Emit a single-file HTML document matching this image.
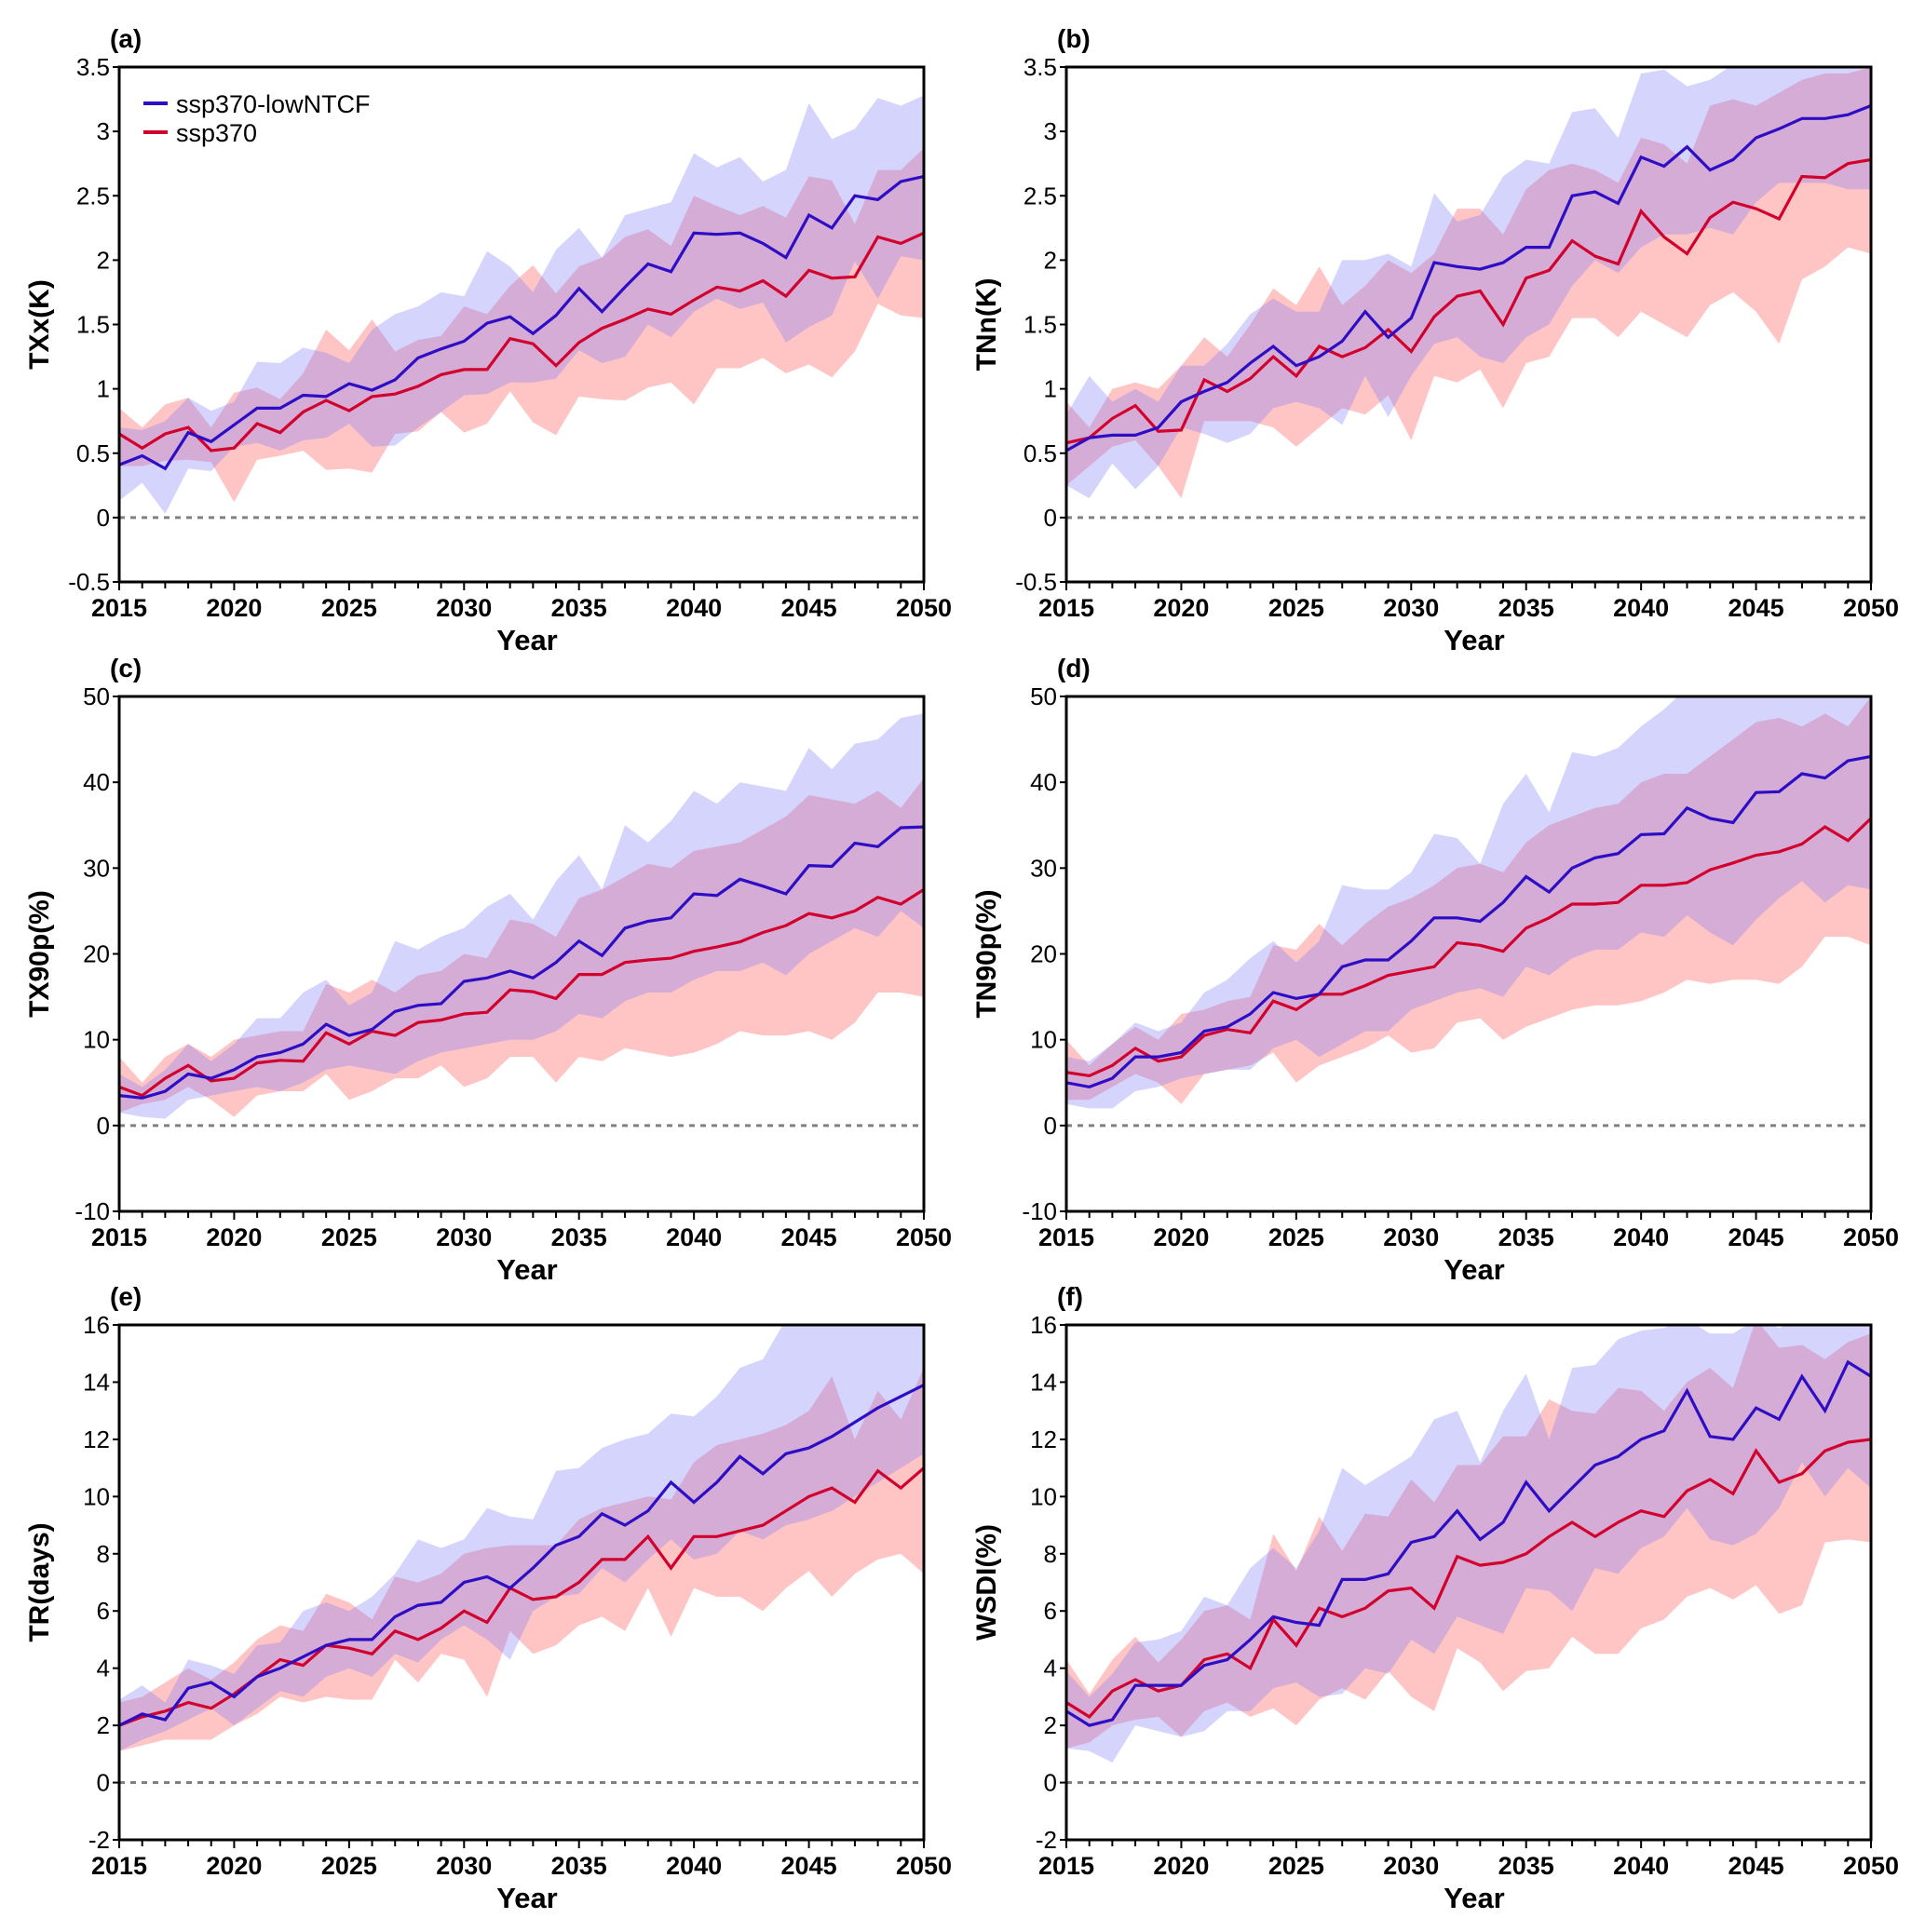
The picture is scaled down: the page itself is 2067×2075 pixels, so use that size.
<!DOCTYPE html>
<html><head><meta charset="utf-8">
<style>
html,body{margin:0;padding:0;background:#fff;}
svg{display:block;}
text{font-family:"Liberation Sans",Arial,sans-serif;fill:#000;}
</style></head>
<body>
<svg id="fig" width="2067" height="2075" viewBox="0 0 2067 2075" xmlns="http://www.w3.org/2000/svg"></svg>
<script>
const years = [];
for (let y = 2015; y <= 2050; y++) years.push(y);
const xTicks = [2015,2020,2025,2030,2035,2040,2045,2050];

const aBlue = [.41,.48,.38,.66,.59,.72,.85,.85,.95,.94,1.04,.99,1.07,1.24,1.31,1.37,1.51,1.56,1.43,1.57,1.78,1.60,1.79,1.97,1.91,2.21,2.20,2.21,2.13,2.02,2.35,2.25,2.50,2.47,2.61,2.65];
const aRed = [.65,.54,.65,.70,.52,.54,.73,.66,.82,.91,.83,.94,.96,1.02,1.11,1.15,1.15,1.39,1.35,1.18,1.36,1.47,1.54,1.62,1.58,1.69,1.79,1.76,1.84,1.72,1.92,1.86,1.87,2.18,2.13,2.21];
const aBlueHi = [.70,.68,.75,.93,.83,.90,1.21,1.20,1.32,1.28,1.20,1.46,1.58,1.64,1.75,1.72,2.07,1.95,1.75,2.08,2.25,2.02,2.35,2.40,2.45,2.83,2.72,2.80,2.61,2.70,3.22,2.94,3.02,3.26,3.20,3.28];
const aBlueLo = [.13,.27,.03,.38,.36,.55,.58,.52,.60,.62,.73,.55,.56,.70,.82,.95,.96,1.05,1.05,1.08,1.30,1.20,1.25,1.50,1.40,1.60,1.70,1.62,1.67,1.36,1.48,1.57,1.99,1.70,2.03,2.00];
const aRedHi = [.85,.70,.88,.93,.70,.97,1.01,.92,1.12,1.46,1.30,1.54,1.29,1.38,1.41,1.64,1.58,1.80,1.96,1.74,1.95,2.02,2.18,2.24,2.11,2.50,2.42,2.35,2.42,2.33,2.65,2.62,2.28,2.70,2.70,2.87];
const aRedLo = [.40,.40,.44,.45,.43,.12,.45,.48,.52,.37,.38,.35,.65,.67,.82,.66,.73,.98,.74,.64,.94,.92,.91,1.01,1.05,.88,1.16,1.16,1.24,1.12,1.19,1.09,1.29,1.66,1.57,1.55];

const bBlue = [.52,.62,.64,.64,.70,.90,.98,1.05,1.20,1.33,1.18,1.25,1.37,1.60,1.40,1.55,1.98,1.95,1.93,1.98,2.10,2.10,2.50,2.53,2.44,2.80,2.73,2.88,2.70,2.78,2.95,3.02,3.10,3.10,3.13,3.20];
const bRed = [.58,.62,.77,.87,.67,.68,1.07,.98,1.08,1.25,1.10,1.33,1.25,1.32,1.46,1.29,1.56,1.72,1.76,1.50,1.86,1.92,2.15,2.03,1.97,2.38,2.18,2.05,2.33,2.45,2.40,2.32,2.65,2.64,2.75,2.78];
const bBlueHi = [.80,1.10,.90,1.00,.90,1.18,1.18,1.35,1.58,1.70,1.60,1.60,2.00,2.00,2.05,1.95,2.52,2.30,2.35,2.65,2.78,2.75,3.15,3.18,2.95,3.45,3.48,3.35,3.40,3.52,3.52,3.52,3.52,3.52,3.52,3.52];
const bBlueLo = [.25,.15,.42,.22,.40,.70,.65,.58,.65,.85,.90,.85,.72,1.10,.78,1.10,1.35,1.40,1.25,1.20,1.40,1.50,1.80,2.00,1.90,2.10,2.20,2.20,2.25,2.20,2.45,2.60,2.60,2.60,2.55,2.55];
const bRedHi = [.90,.70,1.00,1.05,1.00,1.18,1.40,1.25,1.50,1.78,1.65,1.95,1.65,1.80,2.00,1.90,2.05,2.40,2.40,2.20,2.55,2.70,2.75,2.70,2.60,2.95,2.90,2.75,3.20,3.25,3.20,3.30,3.40,3.45,3.45,3.50];
const bRedLo = [.25,.40,.55,.60,.40,.15,.75,.75,.75,.70,.55,.70,.85,.80,.95,.60,1.10,1.05,1.15,.85,1.20,1.25,1.55,1.55,1.40,1.60,1.50,1.40,1.65,1.75,1.60,1.35,1.85,1.95,2.10,2.05];

const cBlue = [3.5,3.2,4.0,6.0,5.5,6.5,8.0,8.5,9.5,11.8,10.5,11.2,13.3,14.0,14.2,16.8,17.2,18.0,17.2,19.0,21.5,19.8,23.0,23.8,24.2,27.0,26.8,28.7,27.9,27.0,30.3,30.2,32.9,32.5,34.7,34.8];
const cRed = [4.5,3.5,5.5,7.0,5.2,5.5,7.3,7.6,7.5,10.8,9.5,11.0,10.5,12.0,12.3,13.0,13.2,15.8,15.6,14.8,17.6,17.6,19.0,19.3,19.5,20.3,20.8,21.4,22.5,23.3,24.7,24.2,25.0,26.6,25.8,27.5];
const cBlueHi = [6,4.5,6.5,9.5,7.5,9.5,12.5,12.5,15.5,17.0,14.0,15.5,21.5,20.5,22.0,23.0,25.5,27.0,24.0,28.5,31.5,27.5,35.0,33.0,35.5,39.0,37.5,40.0,39.5,39.0,44.0,41.5,44.5,45.0,47.5,48.0];
const cBlueLo = [1.5,1.0,0.8,3.0,3.5,4.0,4.5,4.0,5.0,6.5,7.0,6.5,6.0,7.5,8.5,9.0,9.5,10.0,10.0,11.0,13.0,12.5,14.5,15.5,15.5,17.0,18.0,18.0,19.0,17.5,20.0,21.5,23.0,22.0,25.0,23.0];
const cRedHi = [8.0,5.0,8.0,9.5,8.0,10.0,10.5,11.0,11.0,16.5,15.5,17.0,15.5,17.5,18.0,20.0,19.5,24.0,23.5,22.0,26.5,27.5,29.0,30.5,30.0,32.0,32.5,33.0,34.5,36.0,38.5,38.0,37.5,39.0,37.0,40.5];
const cRedLo = [1.5,2.5,3.0,4.5,3.0,1.0,3.5,4.0,4.0,6.0,3.0,4.0,5.5,5.5,7.0,4.5,5.5,8.0,8.0,5.0,8.0,7.5,9.0,8.5,8.0,8.5,9.5,11.0,10.5,10.5,11.0,10.0,12.0,15.5,15.5,15.0];

const dBlue = [5.0,4.5,5.5,8.0,8.0,8.5,11.0,11.5,13.0,15.5,14.8,15.3,18.5,19.3,19.3,21.5,24.2,24.2,23.8,26.0,29.0,27.2,30.0,31.2,31.7,33.9,34.0,37.0,35.8,35.3,38.8,38.9,41.0,40.5,42.5,43.0];
const dRed = [6.2,5.8,7.0,9.0,7.5,8.0,10.5,11.2,10.8,14.5,13.5,15.3,15.3,16.3,17.5,18.0,18.5,21.3,21.0,20.3,23.0,24.2,25.8,25.8,26.0,28.0,28.0,28.3,29.8,30.6,31.5,31.9,32.8,34.8,33.2,35.8];
const dBlueHi = [8.0,7.5,9.5,12.0,11.0,12.0,15.5,17.0,19.5,21.5,19.0,21.5,28.0,27.5,27.5,29.5,34.0,33.5,30.5,37.5,41.0,36.5,43.5,43.0,44.0,46.5,48.5,51,51,51,51,51,51,51,51,51];
const dBlueLo = [2.5,2.0,2.0,4.0,4.5,5.5,6.0,6.5,6.5,9.0,10.0,8.0,9.5,11.0,11.0,13.5,14.5,15.5,16.0,15.0,18.5,17.5,19.5,20.5,20.5,22.5,22.0,24.5,22.5,21.0,24.0,26.5,28.5,26.0,28.0,27.5];
const dRedHi = [10.0,7.0,9.5,11.5,10.0,13.0,13.5,14.5,15.0,21.0,20.5,23.5,21.0,23.5,25.5,26.5,28.0,30.0,30.5,29.5,33.0,35.0,36.0,37.0,37.5,40.0,41.0,41.0,43.0,45.0,47.0,47.5,46.5,48.0,46.5,50];
const dRedLo = [3.0,3.0,4.5,6.0,5.0,2.5,6.0,6.5,7.0,8.5,5.0,7.0,8.0,9.0,10.5,8.5,9.0,12.0,12.5,10.0,11.5,12.5,13.5,14.0,14.0,14.5,15.5,17.0,16.5,17.0,17.0,16.5,18.5,22.0,22.0,21.0];

const eBlue = [2.0,2.4,2.2,3.3,3.5,3.0,3.7,4.0,4.4,4.8,5.0,5.0,5.8,6.2,6.3,7.0,7.2,6.8,7.5,8.3,8.6,9.4,9.0,9.5,10.5,9.8,10.5,11.4,10.8,11.5,11.7,12.1,12.6,13.1,13.5,13.9];
const eRed = [2.0,2.3,2.5,2.8,2.6,3.1,3.7,4.3,4.1,4.8,4.7,4.5,5.3,5.0,5.4,6.0,5.6,6.8,6.4,6.5,7.0,7.8,7.8,8.6,7.5,8.6,8.6,8.8,9.0,9.5,10.0,10.3,9.8,10.9,10.3,11.0];
const eBlueHi = [2.9,3.4,2.8,4.3,4.1,3.8,4.8,4.9,6.0,6.3,6.0,6.5,7.3,8.5,8.2,8.5,9.6,9.3,9.2,10.9,11.0,11.7,12.0,12.2,12.9,12.8,13.5,14.5,14.8,16.2,16.2,16.2,16.2,16.2,16.2,16.2];
const eBlueLo = [1.1,1.5,1.8,2.2,2.6,2.0,2.6,3.2,3.0,3.7,4.0,3.7,4.5,4.2,5.0,5.5,5.0,4.3,6.0,6.5,6.6,7.5,7.0,7.8,8.5,7.8,8.0,8.8,8.5,9.0,9.2,9.5,10.0,10.5,11.0,11.5];
const eRedHi = [2.8,3.0,3.5,4.0,3.6,4.2,5.0,5.5,5.3,6.6,6.3,5.7,7.2,7.0,7.3,8.0,8.2,8.3,8.3,8.3,9.2,9.6,9.8,10.0,9.9,11.2,11.8,12.0,12.2,12.5,13.0,14.2,12.0,13.7,12.7,14.5];
const eRedLo = [1.1,1.3,1.5,1.5,1.5,2.0,2.4,3.0,2.8,3.0,2.9,2.9,4.3,3.5,4.5,4.3,3.0,5.3,4.5,4.8,5.5,5.8,5.3,6.8,5.1,6.8,6.5,6.5,6.0,6.8,7.4,6.5,7.3,7.8,8.0,7.3];

const fBlue = [2.5,2.0,2.2,3.4,3.4,3.4,4.1,4.3,5.0,5.8,5.6,5.5,7.1,7.1,7.3,8.4,8.6,9.5,8.5,9.1,10.5,9.5,10.3,11.1,11.4,12.0,12.3,13.7,12.1,12.0,13.1,12.7,14.2,13.0,14.7,14.2];
const fRed = [2.8,2.3,3.2,3.6,3.2,3.4,4.3,4.5,4.0,5.7,4.8,6.1,5.8,6.1,6.7,6.8,6.1,7.9,7.6,7.7,8.0,8.6,9.1,8.6,9.1,9.5,9.3,10.2,10.6,10.1,11.6,10.5,10.8,11.6,11.9,12.0];
const fBlueHi = [3.9,3.0,3.8,4.9,5.0,5.3,6.5,6.2,7.5,8.2,7.5,8.8,11.0,10.4,10.9,11.4,12.7,13.0,11.2,13.0,14.3,12.0,14.5,14.6,15.5,15.8,15.9,16.2,15.7,15.7,16.2,15.9,16.2,16.2,16.2,16.2];
const fBlueLo = [1.2,1.1,0.7,2.0,1.8,1.6,1.8,2.5,2.5,3.3,3.5,3.0,3.1,4.0,3.8,5.0,4.5,5.8,5.5,5.2,6.8,6.7,6.0,7.5,7.3,8.2,8.6,9.6,8.5,8.3,8.7,9.6,11.2,10.0,11.0,10.3];
const fRedHi = [4.3,3.1,4.3,5.1,4.2,5.0,6.0,6.2,5.7,8.7,7.4,9.3,8.1,9.4,9.3,10.6,9.8,11.1,11.1,12.1,12.1,13.4,13.0,12.9,13.8,13.7,13.0,14.0,14.5,13.8,16.2,15.2,15.3,14.8,15.4,15.7];
const fRedLo = [1.2,1.4,2.0,2.2,2.3,1.6,2.5,2.8,2.3,2.6,2.0,2.9,3.3,2.9,3.9,3.0,2.5,4.7,4.2,3.2,3.9,4.0,5.1,4.5,4.5,5.4,5.7,6.5,6.8,6.4,6.9,5.9,6.2,8.4,8.5,8.4];

const ticksTemp = [-0.5,0,0.5,1,1.5,2,2.5,3,3.5];
const ticksPct = [-10,0,10,20,30,40,50];
const ticksDays = [-2,0,2,4,6,8,10,12,14,16];

const NS = "http://www.w3.org/2000/svg";
const svg = document.getElementById('fig');
function mk(tag, attrs, parent) {
  const e = document.createElementNS(NS, tag);
  for (const k in attrs) e.setAttribute(k, attrs[k]);
  (parent || svg).appendChild(e);
  return e;
}

const panels = [
  {id:'a', lab:'(a)', yt:'TXx(K)', ticks:ticksTemp, L:128, T:72, mean:[aBlue,aRed], hi:[aBlueHi,aRedHi], lo:[aBlueLo,aRedLo], legend:true},
  {id:'b', lab:'(b)', yt:'TNn(K)', ticks:ticksTemp, L:1145, T:72, mean:[bBlue,bRed], hi:[bBlueHi,bRedHi], lo:[bBlueLo,bRedLo]},
  {id:'c', lab:'(c)', yt:'TX90p(%)', ticks:ticksPct, L:128, T:748, mean:[cBlue,cRed], hi:[cBlueHi,cRedHi], lo:[cBlueLo,cRedLo]},
  {id:'d', lab:'(d)', yt:'TN90p(%)', ticks:ticksPct, L:1145, T:748, mean:[dBlue,dRed], hi:[dBlueHi,dRedHi], lo:[dBlueLo,dRedLo]},
  {id:'e', lab:'(e)', yt:'TR(days)', ticks:ticksDays, L:128, T:1423, mean:[eBlue,eRed], hi:[eBlueHi,eRedHi], lo:[eBlueLo,eRedLo]},
  {id:'f', lab:'(f)', yt:'WSDI(%)', ticks:ticksDays, L:1145, T:1423, mean:[fBlue,fRed], hi:[fBlueHi,fRedHi], lo:[fBlueLo,fRedLo]}
];
const W = 864, H = 553;
const lineCol = ['#2d0ec4','#d2002c'];
const bandCol = ['rgb(125,125,250)','rgb(255,125,125)'];
const bandOp = [0.33,0.45];
const serName = ['ssp370-lowNTCF','ssp370'];

panels.forEach(p => {
  const g = mk('g', {});
  
  
  const ymin = p.ticks[0], ymax = p.ticks[p.ticks.length-1];
  const xs = yr => p.L + (yr - 2015) / 35 * W;
  const ys = v => p.T + H - (v - ymin) / (ymax - ymin) * H;
  const cp = mk('clipPath', {id:'clip-' + p.id}, g);
  mk('rect', {x:p.L, y:p.T, width:W, height:H}, cp);
  const plot = mk('g', {'clip-path':'url(#clip-' + p.id + ')'}, g);
  [1,0].forEach(s => {
    let d = '';
    years.forEach((yr,i) => { d += (i ? 'L' : 'M') + xs(yr).toFixed(1) + ',' + ys(p.hi[s][i]).toFixed(1); });
    for (let i = years.length-1; i >= 0; i--) d += 'L' + xs(years[i]).toFixed(1) + ',' + ys(p.lo[s][i]).toFixed(1);
    const band = mk('path', {d:d+'Z', fill:bandCol[s], 'fill-opacity':bandOp[s], stroke:'none'}, plot);
    
    
  });
  const zl = mk('line', {x1:p.L, x2:p.L+W, y1:ys(0), y2:ys(0), stroke:'#808080', 'stroke-width':3, 'stroke-dasharray':'6,6'}, plot);
  
  
  [1,0].forEach(s => {
    const pts = years.map((yr,i) => xs(yr).toFixed(1) + ',' + ys(p.mean[s][i]).toFixed(1)).join(' ');
    const ln = mk('polyline', {points:pts, fill:'none', stroke:lineCol[s], 'stroke-width':3.2, 'stroke-linejoin':'miter'}, plot);
    
    
  });
  const fr = mk('rect', {x:p.L, y:p.T, width:W, height:H, fill:'none', stroke:'#000', 'stroke-width':3}, g);
  
  
  p.ticks.forEach(t => {
    mk('line', {x1:p.L-7, x2:p.L, y1:ys(t), y2:ys(t), stroke:'#000', 'stroke-width':2}, g);
    const tx = mk('text', {x:p.L-10, y:ys(t)+9, 'text-anchor':'end', 'font-size':26, style:'font-stretch:condensed'}, g);
    tx.textContent = String(t);
    
    
  });
  years.forEach(yr => {
    mk('line', {x1:xs(yr), x2:xs(yr), y1:p.T+H, y2:p.T+H+(yr%5===0?9:7), stroke:'#000', 'stroke-width':2}, g);
  });
  xTicks.forEach(yr => {
    const tx = mk('text', {x:xs(yr), y:p.T+H+37, 'text-anchor':'middle', 'font-size':27, 'font-weight':'bold'}, g);
    tx.textContent = String(yr);
    
    
  });
  const xt = mk('text', {x:p.L+W/2+6, y:p.T+H+73, 'text-anchor':'middle', 'font-size':31, 'font-weight':'bold'}, g);
  xt.textContent = 'Year';
  
  
  const cx = p.L - 76, cy = p.T + H/2;
  const yt = mk('text', {x:cx, y:cy, 'text-anchor':'middle', 'font-size':30, 'font-weight':'bold', transform:'rotate(-90 '+cx+' '+cy+')'}, g);
  yt.textContent = p.yt;
  
  
  const pl = mk('text', {x:p.L-10, y:p.T-21, 'font-size':28, 'font-weight':'bold'}, g);
  pl.textContent = p.lab;
  
  
  if (p.legend) {
    [0,1].forEach(s => {
      const ly = p.T + 39 + s*31;
      const le = mk('g', {}, g);
      
      
      mk('line', {x1:p.L+26, x2:p.L+52, y1:ly, y2:ly, stroke:lineCol[s], 'stroke-width':4}, le);
      const t = mk('text', {x:p.L+61, y:ly+10, 'font-size':27}, le);
      t.textContent = serName[s];
    });
  }
});
</script>
</body></html>
